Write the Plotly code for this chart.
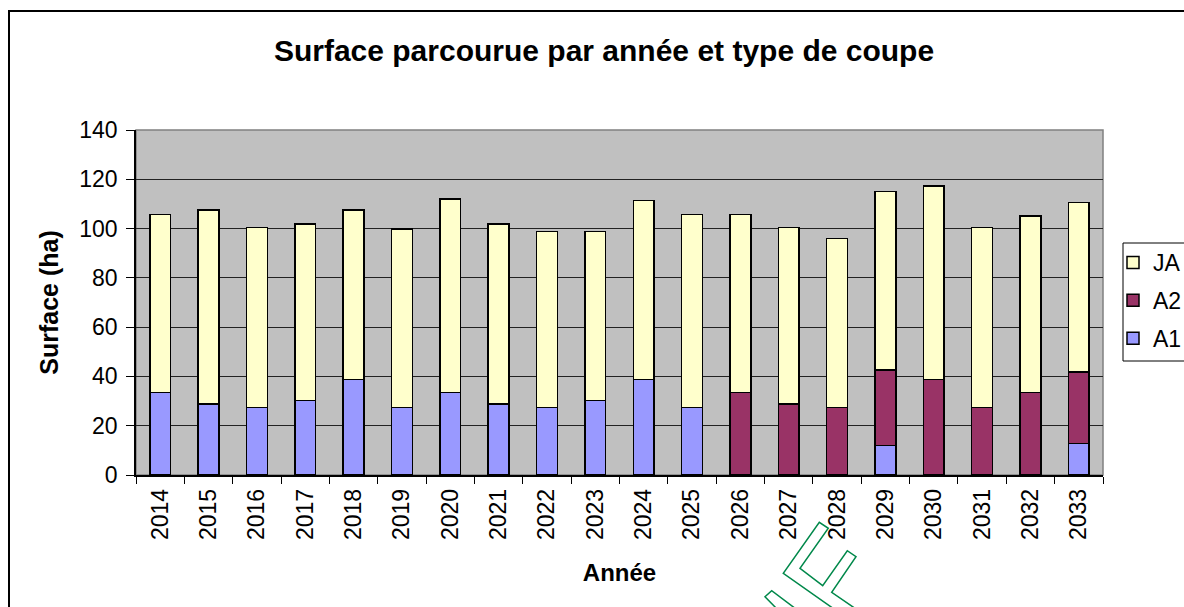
import plotly.graph_objects as go

years = [str(y) for y in range(2014, 2034)]
a1 = [33.4, 28.8, 27.3, 30.2, 38.8, 27.3, 33.4, 28.8, 27.3, 30.2,
      38.8, 27.3, 0, 0, 0, 11.9, 0, 0, 0, 12.7]
a2 = [0, 0, 0, 0, 0, 0, 0, 0, 0, 0,
      0, 0, 33.4, 28.8, 27.3, 30.7, 38.8, 27.3, 33.4, 29.0]
ja = [72.4, 78.7, 73.2, 71.7, 68.7, 72.5, 78.6, 73.1, 71.6, 68.7,
      72.5, 78.5, 72.4, 71.7, 68.6, 72.4, 78.5, 73.2, 71.7, 68.8]

W, H = 1184, 607
L, R, T, B = 136, 1103, 130, 475  # plot area in screen pixels


def px(x, y):
    return (x - L) / (R - L), (B - y) / (B - T)


def path(points):
    s = ""
    for i, (x, y) in enumerate(points):
        u, v = px(x, y)
        s += ("M" if i == 0 else "L") + f"{u:.5f},{v:.5f} "
    return s.strip()


FONT = "Liberation Sans, Arial, sans-serif"
line = dict(color="black", width=1.5)

fig = go.Figure()
fig.add_trace(go.Bar(x=years, y=a1, name="A1", marker=dict(color="#9999ff", line=line),
                     legendgroup="a1", legendrank=3))
fig.add_trace(go.Bar(x=years, y=a2, name="A2", marker=dict(color="#993366", line=line),
                     legendgroup="a2", legendrank=2))
fig.add_trace(go.Bar(x=years, y=ja, name="JA", marker=dict(color="#ffffcc", line=line),
                     legendgroup="ja", legendrank=1))

shapes = []
# outer chart frame
x0, y0 = px(9, 11)
x1, y1 = px(1300, 700)
shapes.append(dict(type="rect", xref="paper", yref="paper", x0=x0, y0=y0, x1=x1, y1=y1,
                   line=dict(color="black", width=2), fillcolor="rgba(0,0,0,0)"))
# plot area border (gray)
shapes.append(dict(type="rect", xref="paper", yref="paper", x0=0, y0=0, x1=1, y1=1,
                   line=dict(color="#808080", width=1.5), fillcolor="rgba(0,0,0,0)",
                   layer="below"))
# legend box
lx0, ly0 = px(1123, 243)
lx1, ly1 = px(1300, 361)
shapes.append(dict(type="rect", xref="paper", yref="paper", x0=lx0, y0=ly0, x1=lx1, y1=ly1,
                   line=dict(color="black", width=1), fillcolor="white", layer="below"))
# watermark outline
wm = dict(color="#00884a", width=1.5)
shapes.append(dict(type="path", xref="paper", yref="paper", line=wm,
                   path=path([(834, 609), (783.3, 573.3), (819.3, 522.3), (828.3, 528.3),
                              (800, 568.3), (822.7, 585.7), (847.3, 550.7), (856, 556.7),
                              (831.7, 592.3), (856, 609)])))
shapes.append(dict(type="path", xref="paper", yref="paper", line=wm,
                   path=path([(777, 609), (765, 596.7), (771.7, 590.7), (796, 609)])))

lgx, lgy = px(1113, 241)

fig.update_layout(
    width=W, height=H,
    margin=dict(l=L, r=W - R, t=T, b=H - B, pad=0, autoexpand=False),
    paper_bgcolor="white",
    plot_bgcolor="#c0c0c0",
    barmode="stack",
    bargap=0.57,
    font=dict(family=FONT, size=23, color="black"),
    title=dict(text="<b>Surface parcourue par année et type de coupe</b>",
               x=604 / W, xanchor="center", y=1 - 50 / H, yanchor="middle",
               font=dict(family=FONT, size=30, color="black")),
    xaxis=dict(
        type="category", tickangle=-90, tickson="boundaries",
        ticks="outside", ticklen=7, tickcolor="black", tickwidth=1,
        showline=True, linecolor="black", linewidth=1.5,
        showgrid=False, ticklabelstandoff=3,
        tickfont=dict(family=FONT, size=23),
        title=dict(text="<b>Année</b>", font=dict(family=FONT, size=24), standoff=25),
        range=[-0.5, 19.5],
    ),
    yaxis=dict(
        range=[0, 140], dtick=20,
        ticks="outside", ticklen=8, tickcolor="black", tickwidth=1,
        showline=True, linecolor="black", linewidth=1.5,
        showgrid=True, gridcolor="#222222", gridwidth=1,
        zeroline=False, ticklabelstandoff=4,
        tickfont=dict(family=FONT, size=23),
        title=dict(text="<b>Surface (ha)</b>", font=dict(family=FONT, size=25), standoff=14),
    ),
    legend=dict(
        x=lgx, y=lgy, xanchor="left", yanchor="top",
        bgcolor="rgba(0,0,0,0)", borderwidth=0,
        traceorder="grouped", tracegroupgap=5,
        font=dict(family=FONT, size=23),
    ),
    shapes=shapes,
)

fig.write_html("out.html",
               config={"displayModeBar": False},
               post_script="document.body.style.margin='0';document.body.style.overflow='hidden';")
